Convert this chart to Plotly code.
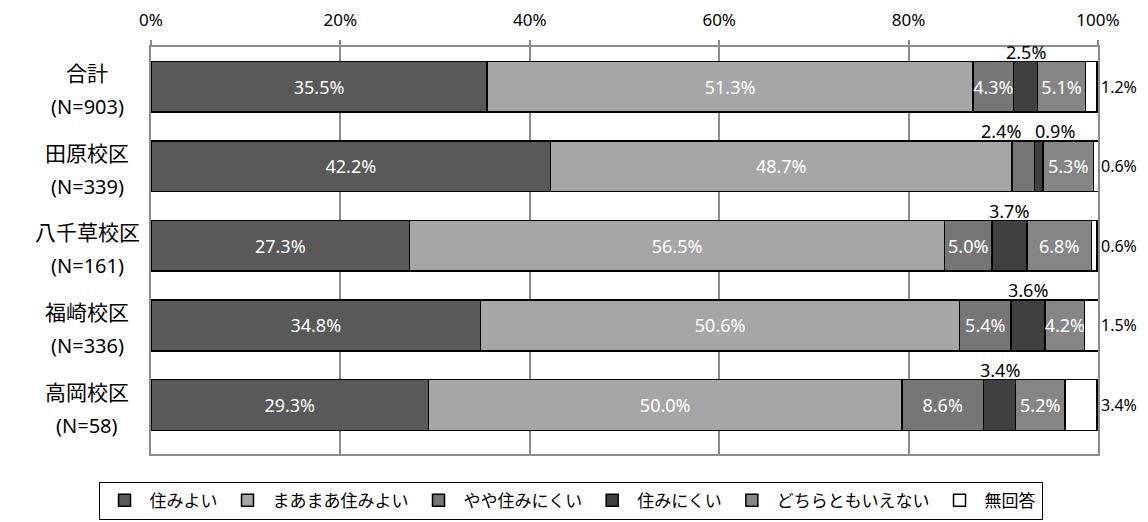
import plotly.graph_objects as go

# ---------------- data ----------------
categories = ["合計", "田原校区", "八千草校区", "福崎校区", "高岡校区"]
respondents = [903, 339, 161, 336, 58]
series_names = ["住みよい", "まあまあ住みよい", "やや住みにくい", "住みにくい", "どちらともいえない", "無回答"]
sumi_yoi = [35.5, 42.2, 27.3, 34.8, 29.3]
maamaa_sumi_yoi = [51.3, 48.7, 56.5, 50.6, 50.0]
yaya_sumi_nikui = [4.3, 2.4, 5.0, 5.4, 8.6]
sumi_nikui = [2.5, 0.9, 3.7, 3.6, 3.4]
dochira_tomo = [5.1, 5.3, 6.8, 4.2, 5.2]
mukaitou = [1.2, 0.6, 0.6, 1.5, 3.4]
x_ticks = [0, 20, 40, 60, 80, 100]
x_tick_labels = ["0%", "20%", "40%", "60%", "80%", "100%"]

series_values = [sumi_yoi, maamaa_sumi_yoi, yaya_sumi_nikui, sumi_nikui, dochira_tomo, mukaitou]

# ---------------- style ----------------
FONT = "Noto Sans, Noto Sans CJK JP, sans-serif"
colors = ["#595959", "#a6a6a6", "#767676", "#404040", "#858585", "#ffffff"]
GRID = "#8c8c8c"
INSIDE_MIN = 4.0
# pixel offsets for crowded small labels (category index, series index) -> xshift
label_xshift = {(1, 2): -22, (1, 3): 16}

fig = go.Figure()
annotations = []

for si, (name, vals) in enumerate(zip(series_names, series_values)):
    is_last = si == len(series_names) - 1
    texts = []
    for ci, v in enumerate(vals):
        if not is_last and v >= INSIDE_MIN:
            texts.append(f"{v:.1f}%")
        else:
            texts.append("")
    fig.add_trace(go.Bar(
        name=name,
        y=categories,
        x=vals,
        orientation="h",
        marker=dict(color=colors[si], line=dict(color="#000000", width=1.5)),
        text=texts,
        textposition="inside",
        insidetextanchor="middle",
        textangle=0,
        constraintext="none",
        insidetextfont=dict(family=FONT, size=18, color="#ffffff"),
        hoverinfo="x+name",
    ))

# small / outside labels
for ci, cat in enumerate(categories):
    cum = 0.0
    for si, vals in enumerate(series_values):
        v = vals[ci]
        is_last = si == len(series_values) - 1
        if is_last:
            annotations.append(dict(
                x=100, y=cat, xref="x", yref="y", text=f"{v:.1f}%",
                showarrow=False, xanchor="left", xshift=1,
                font=dict(family=FONT, size=16, color="#000000"),
            ))
        elif v < INSIDE_MIN:
            annotations.append(dict(
                x=cum + v / 2, y=cat, xref="x", yref="y", text=f"{v:.1f}%",
                showarrow=False, xanchor="center", yanchor="middle",
                yshift=35, xshift=label_xshift.get((ci, si), 0),
                font=dict(family=FONT, size=18, color="#000000"),
            ))
        cum += v

# category labels (two centered lines)
for cat, n in zip(categories, respondents):
    annotations.append(dict(
        x=0, y=cat, xref="paper", yref="y", text=cat, showarrow=False,
        xanchor="center", yanchor="middle", xshift=-64, yshift=13.5,
        font=dict(family=FONT, size=21, color="#000000"),
    ))
    annotations.append(dict(
        x=0, y=cat, xref="paper", yref="y", text=f"(N={n})", showarrow=False,
        xanchor="center", yanchor="middle", xshift=-64, yshift=-20,
        font=dict(family=FONT, size=20, color="#000000"),
    ))

fig.update_layout(
    template="none",
    width=1148,
    height=522,
    margin=dict(l=151, r=50, t=47, b=68, autoexpand=False),
    barmode="stack",
    bargap=0.363,
    plot_bgcolor="#ffffff",
    paper_bgcolor="#ffffff",
    font=dict(family=FONT, size=17, color="#000000"),
    showlegend=True,
    legend=dict(
        orientation="h",
        x=0.443, xanchor="center",
        y=-0.115, yanchor="middle",
        bordercolor="#000000", borderwidth=1,
        bgcolor="#ffffff",
        font=dict(family=FONT, size=17, color="#000000"),
        itemwidth=40,
        traceorder="normal",
    ),
    xaxis=dict(
        side="top",
        range=[0, 100],
        tickmode="array",
        tickvals=x_ticks,
        ticktext=x_tick_labels,
        showgrid=True,
        gridcolor=GRID,
        gridwidth=1.5,
        showline=True,
        linecolor=GRID,
        linewidth=1.5,
        mirror=True,
        ticks="outside",
        ticklen=5,
        tickcolor=GRID,
        tickwidth=1.5,
        ticklabelstandoff=7,
        tickfont=dict(family=FONT, size=17, color="#000000"),
        zeroline=False,
        automargin=False,
        fixedrange=True,
    ),
    yaxis=dict(
        autorange="reversed",
        showticklabels=False,
        showgrid=False,
        showline=True,
        linecolor=GRID,
        linewidth=1.5,
        mirror=True,
        ticks="",
        zeroline=False,
        automargin=False,
        fixedrange=True,
    ),
    annotations=annotations,
)

fig.write_html(
    "out.html",
    config={"displayModeBar": False},
    post_script="document.body.style.margin='0';document.body.style.overflow='hidden';",
)
